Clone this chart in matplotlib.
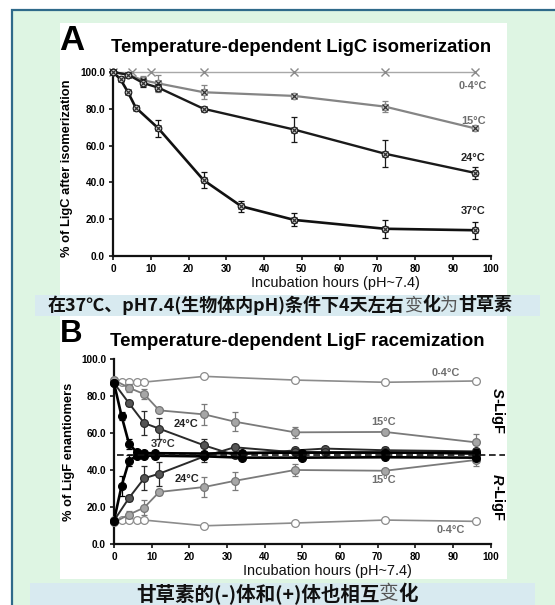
import matplotlib
matplotlib.use('Agg')
import matplotlib.pyplot as plt
from matplotlib.patches import Rectangle

LAT = 'Liberation Sans'
CJK = ['Noto Sans CJK SC', 'DejaVu Sans']
plt.rcParams['font.family'] = [LAT, 'DejaVu Sans']

# ---------------- data: panel A (LigC isomerization) ----------------
a_x_04 = [0, 5, 10, 24, 48, 72, 96]
a_y_04 = [100, 100, 100, 100, 100, 100, 100]

a_x_15 = [0, 4, 8, 12, 24, 48, 72, 96]
a_y_15 = [100, 98.5, 95.5, 93.8, 89.0, 87.0, 81.2, 69.3]
a_e_15 = [0, 0.5, 2.5, 4.5, 3.8, 1.0, 2.8, 0.8]

a_x_24 = [0, 4, 8, 12, 24, 48, 72, 96]
a_y_24 = [100, 98.5, 94.0, 91.5, 80.0, 68.7, 55.6, 45.1]
a_e_24 = [0, 0.5, 2.0, 2.0, 1.0, 7.0, 7.5, 3.5]

a_x_37 = [0, 2, 4, 6, 12, 24, 34, 48, 72, 96]
a_y_37 = [100, 96.0, 88.9, 80.7, 69.4, 41.2, 27.0, 19.6, 14.8, 14.0]
a_e_37 = [0, 1.0, 1.0, 1.0, 4.5, 4.3, 3.0, 3.5, 4.8, 4.5]

# ---------------- data: panel B (LigF racemization) ----------------
b_x_04 = [0, 2, 4, 6, 8, 24, 48, 72, 96]
b_s_04 = [87.7, 87.7, 87.7, 87.7, 87.5, 90.6, 88.6, 87.4, 88.1]
b_r_04 = [12.6, 12.6, 12.6, 12.6, 12.8, 9.7, 11.2, 12.8, 12.1]

b_x_15 = [0, 4, 8, 12, 24, 32, 48, 72, 96]
b_s_15 = [88.6, 84.4, 81.0, 72.2, 70.0, 66.1, 60.3, 60.5, 54.9]
b_es_15 = [0, 2.0, 2.5, 1.0, 5.5, 5.0, 3.0, 1.0, 4.5]
b_r_15 = [11.5, 15.8, 19.5, 28.0, 30.7, 34.0, 39.9, 39.5, 45.3]
b_er_15 = [0, 2.0, 4.0, 1.5, 5.5, 5.0, 3.0, 1.0, 3.5]

b_x_24 = [0, 4, 8, 12, 24, 32, 48, 56, 72, 96]
b_s_24 = [87.0, 76.0, 65.3, 62.3, 53.2, 48.0, 50.5, 51.5, 50.6, 50.0]
b_es_24 = [0, 1.5, 6.5, 5.5, 3.5, 1.0, 1.5, 1.0, 1.5, 1.5]
b_r_24 = [12.5, 24.8, 35.4, 37.9, 47.3, 52.2, 49.5, 49.5, 49.5, 48.5]
b_er_24 = [0, 1.5, 6.5, 6.5, 3.0, 1.0, 1.0, 1.0, 1.0, 1.0]

b_x_37 = [0, 2, 4, 6, 8, 11, 24, 34, 50, 72, 96]
b_s_37 = [87.0, 69.2, 54.0, 49.6, 49.0, 49.0, 48.8, 49.2, 49.3, 49.3, 49.3]
b_es_37 = [0, 2.0, 2.5, 1.0, 1.0, 1.0, 1.0, 1.0, 1.0, 1.0, 2.0]
b_r_37 = [12.5, 31.2, 44.9, 47.6, 47.6, 47.6, 47.3, 46.6, 46.6, 46.8, 46.6]
b_er_37 = [0, 5.5, 3.0, 1.0, 1.0, 1.0, 1.0, 1.0, 1.0, 1.0, 1.0]

racemic_level = 48.2

x_ticks = list(range(0, 101, 10))
y_ticks = [0, 20, 40, 60, 80, 100]

title_a = 'Temperature-dependent LigC isomerization'
title_b = 'Temperature-dependent LigF racemization'
ylabel_a = '% of LigC after isomerization'
ylabel_b = '% of LigF enantiomers'
xlabel = 'Incubation hours (pH~7.4)'
caption_a = [('在37℃、pH7.4(生物体内pH)条件下4天左右', 'bold', '#111111'),
             ('变', 'normal', '#555555'), ('化', 'bold', '#111111'),
             ('为', 'normal', '#555555'), ('甘草素', 'bold', '#111111')]
caption_b = [('甘草素的(-)体和(+)体也相互', 'bold', '#111111'),
             ('变', 'normal', '#555555'), ('化', 'bold', '#111111')]

# ---------------- figure ----------------
W, H = 555, 605
fig = plt.figure(figsize=(W / 100, H / 100), dpi=100)
fig.patch.set_facecolor('white')
bg = fig.add_axes([0, 0, 1, 1])
bg.set_xlim(0, W)
bg.set_ylim(H, 0)
bg.axis('off')

bg.add_patch(Rectangle((11.5, 9.5), 700, 700, fc='#def5e3', ec='#2f6a8a', lw=1.6))
bg.add_patch(Rectangle((59.5, 23), 447.5, 272, fc='white', ec='none'))
bg.add_patch(Rectangle((35, 295), 505, 21, fc='#d8eaf0', ec='none'))
bg.add_patch(Rectangle((59.5, 316), 447.5, 263, fc='white', ec='none'))
bg.add_patch(Rectangle((30, 583), 505, 30, fc='#d8eaf0', ec='none'))

R = fig.canvas.get_renderer()


def fit_text(x, y, s, target, dim='w', base=10, **kw):
    t = bg.text(x, y, s, fontsize=base, **kw)
    bb = t.get_window_extent(R)
    cur = bb.width if dim == 'w' else bb.height
    t.set_fontsize(base * target / cur)
    return t


def seg_text(segs, cx, cy, target_w):
    base = 10
    arts = []
    for s, w, c in segs:
        arts.append(bg.text(0, cy, s, fontsize=base, fontweight=w, color=c,
                            family=CJK, ha='left', va='center'))
    tot = sum(a.get_window_extent(R).width for a in arts)
    scale = target_w / tot
    for a in arts:
        a.set_fontsize(base * scale)
    widths = [a.get_window_extent(R).width for a in arts]
    x = cx - sum(widths) / 2
    for a, wd in zip(arts, widths):
        a.set_x(x)
        x += wd


# panel letters and titles
bg.text(59, 50, 'A', fontsize=25, fontweight='bold', ha='left', va='baseline')
bg.text(60, 341.5, 'B', fontsize=22.5, fontweight='bold', ha='left', va='baseline')
fit_text(111, 51.5, title_a, 383, fontweight='bold', ha='left', va='baseline')
fit_text(110, 346.5, title_b, 375, fontweight='bold', ha='left', va='baseline')
fit_text(67, 168, ylabel_a, 177, dim='h', fontweight='bold', rotation=90,
         ha='center', va='center')
fit_text(69, 452, ylabel_b, 138, dim='h', fontweight='bold', rotation=90,
         ha='center', va='center')
fit_text(335, 286.5, xlabel, 168, ha='center', va='baseline', color='#111111')
fit_text(327.5, 575.5, xlabel, 168, ha='center', va='baseline', color='#111111')

seg_text(caption_a, 280, 305.5, 465)
seg_text(caption_b, 277, 594, 282)


def style(ax):
    ax.set_facecolor('none')
    ax.set_xlim(0, 100)
    ax.set_ylim(0, 100)
    for s in ['top', 'right']:
        ax.spines[s].set_visible(False)
    for s in ['left', 'bottom']:
        ax.spines[s].set_linewidth(1.6)
        ax.spines[s].set_color('#111111')
    ax.set_xticks(x_ticks)
    ax.set_yticks(y_ticks)
    ax.set_yticklabels(['%.1f' % v for v in y_ticks])
    ax.tick_params(direction='out', length=3.2, width=1.1, labelsize=7.2, pad=2.5)
    for lab in ax.get_xticklabels() + ax.get_yticklabels():
        lab.set_fontweight('bold')


# ---------------- panel A ----------------
axA = fig.add_axes([113 / W, 1 - 256 / H, (490.6 - 113) / W, (256 - 72) / H])
style(axA)

axA.plot(a_x_04, a_y_04, color='#a8a8a8', lw=1.0, marker='x', ms=5.5, mew=1.0,
         mec='#8a8a8a', clip_on=False, zorder=3)


def seriesA(x, y, e, lc, lw, z):
    axA.errorbar(x, y, yerr=e, fmt='none', ecolor=lc, elinewidth=0.9, capsize=2.2,
                 capthick=0.9, zorder=z, clip_on=False)
    axA.plot(x, y, color=lc, lw=lw, marker='o', ms=4.8, mfc='#c8c8c8', mec=lc,
             mew=0.8, clip_on=False, zorder=z)
    axA.plot(x, y, ls='none', marker='x', ms=4.2, mew=0.9, mec='#333333',
             clip_on=False, zorder=z + 0.1)


seriesA(a_x_15, a_y_15, a_e_15, '#858585', 1.6, 4)
seriesA(a_x_24, a_y_24, a_e_24, '#1a1a1a', 1.7, 5)
seriesA(a_x_37, a_y_37, a_e_37, '#111111', 1.9, 6)

lab_kw = dict(fontsize=7.9, fontweight='bold', ha='center', va='center')
axA.text(95.4, 92.4, '0-4°C', color='#6e6e6e', **lab_kw)
axA.text(95.4, 73.5, '15°C', color='#6e6e6e', **lab_kw)
axA.text(95.4, 53.4, '24°C', color='#222222', **lab_kw)
axA.text(95.4, 24.5, '37°C', color='#222222', **lab_kw)

# ---------------- panel B ----------------
axB = fig.add_axes([114 / W, 1 - 543.7 / H, (490.6 - 114) / W, (543.7 - 359) / H])
style(axB)


def seriesB(x, y, e, lc, fc, ec, lw, z):
    if e is not None:
        axB.errorbar(x, y, yerr=e, fmt='none', ecolor=lc, elinewidth=0.9,
                     capsize=2.2, capthick=0.9, zorder=z, clip_on=False)
    axB.plot(x, y, color=lc, lw=lw, marker='o', ms=5.6, mfc=fc, mec=ec,
             mew=0.9, clip_on=False, zorder=z)


seriesB(b_x_04, b_s_04, None, '#8c8c8c', 'white', '#8c8c8c', 1.2, 3)
seriesB(b_x_04, b_r_04, None, '#8c8c8c', 'white', '#8c8c8c', 1.2, 3)
seriesB(b_x_15, b_s_15, b_es_15, '#7a7a7a', '#a6a6a6', '#777777', 1.3, 4)
seriesB(b_x_15, b_r_15, b_er_15, '#7a7a7a', '#a6a6a6', '#777777', 1.3, 4)
seriesB(b_x_24, b_s_24, b_es_24, '#2a2a2a', '#555555', '#2a2a2a', 1.4, 5)
seriesB(b_x_24, b_r_24, b_er_24, '#2a2a2a', '#555555', '#2a2a2a', 1.4, 5)
seriesB(b_x_37, b_s_37, b_es_37, '#000000', '#000000', '#000000', 1.9, 6)
seriesB(b_x_37, b_r_37, b_er_37, '#000000', '#000000', '#000000', 1.9, 6)

axB.plot([0.7, 103.8], [racemic_level, racemic_level], color='#111111', lw=1.2,
         ls=(0, (4, 2.2)), clip_on=False, zorder=7)

axB.text(88.2, 92.6, '0-4°C', color='#6e6e6e', **lab_kw)
axB.text(71.7, 66.0, '15°C', color='#6e6e6e', **lab_kw)
axB.text(19.1, 64.8, '24°C', color='#222222', **lab_kw)
axB.text(13.1, 54.0, '37°C', color='#333333', **lab_kw)
axB.text(19.4, 34.9, '24°C', color='#222222', **lab_kw)
axB.text(71.7, 34.3, '15°C', color='#6e6e6e', **lab_kw)
axB.text(89.5, 7.4, '0-4°C', color='#6e6e6e', **lab_kw)


def vert_label(x, ytop, first, rest, size=10.5):
    t1 = bg.text(x, ytop, first, fontsize=size, fontweight='bold', fontstyle='italic',
                 rotation=-90, ha='center', va='top')
    h = t1.get_window_extent(R).height
    bg.text(x, ytop + h, rest, fontsize=size, fontweight='bold', rotation=-90,
            ha='center', va='top')


vert_label(497, 388, 'S', '-LigF')
vert_label(497, 474, 'R', '-LigF')

fig.savefig('out.png', dpi=100, facecolor=fig.get_facecolor())
